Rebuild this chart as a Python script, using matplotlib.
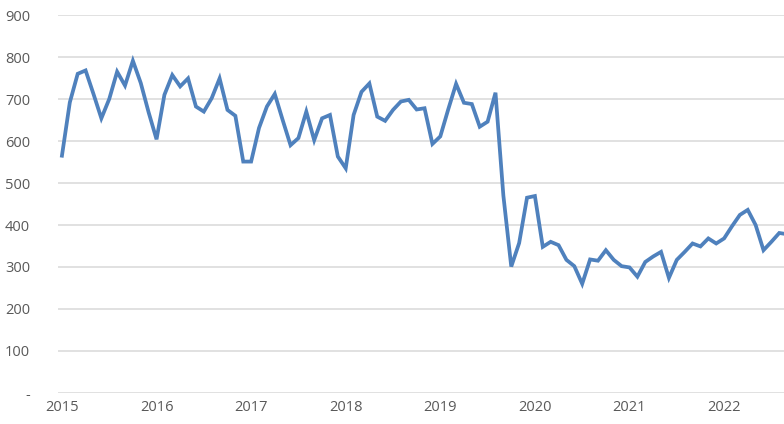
import matplotlib
matplotlib.use("Agg")
import matplotlib.pyplot as plt
import numpy as np

# monthly values, Jan 2015 .. Sep 2022
y2015 = [565, 692, 760, 768, 712, 654, 700, 765, 732, 791, 738, 668]
y2016 = [604, 710, 757, 730, 749, 682, 670, 702, 749, 674, 660, 551]
y2017 = [551, 631, 682, 712, 650, 590, 607, 670, 602, 654, 662, 563]
y2018 = [535, 662, 717, 737, 658, 648, 674, 694, 698, 675, 678, 593]
y2019 = [611, 675, 736, 691, 688, 634, 646, 715, 470, 301, 357, 465]
y2020 = [469, 348, 360, 352, 317, 302, 260, 318, 315, 340, 317, 302]
y2021 = [299, 277, 312, 325, 336, 274, 317, 336, 356, 349, 368, 356]
y2022 = [368, 397, 424, 436, 400, 340, 360, 381, 378]

values = y2015 + y2016 + y2017 + y2018 + y2019 + y2020 + y2021 + y2022
years = ["2015", "2016", "2017", "2018", "2019", "2020", "2021", "2022"]
y_ticks = [0, 100, 200, 300, 400, 500, 600, 700, 800, 900]
y_labels = ["-"] + [str(v) for v in y_ticks[1:]]

plt.rcParams['font.family'] = ['Open Sans', 'DejaVu Sans']

fig = plt.figure(figsize=(7.84, 4.24), dpi=100)
# axes runs off the right edge, like the cropped original
ax = fig.add_axes([58 / 784, 31 / 424, 1 - 58 / 784, 378 / 424])

x = np.arange(len(values))
ax.plot(x, values, color='#4f81bd', linewidth=2.7, solid_joinstyle='miter', zorder=3)

ax.set_xlim(-0.5, 91.6)
ax.set_ylim(0, 900)
ax.set_yticks(y_ticks)
ax.set_yticklabels(y_labels)
ax.set_xticks(np.arange(len(years)) * 12)
ax.set_xticklabels(years)

ax.grid(axis='y', color='#d9d9d9', linewidth=1.1)
ax.set_axisbelow(True)
for s in ax.spines.values():
    s.set_visible(False)
ax.tick_params(axis='both', length=0, colors='#595959', labelsize=10.5)
ax.tick_params(axis='y', pad=20)
ax.tick_params(axis='x', pad=5)
for lab in ax.get_yticklabels():
    lab.set_horizontalalignment('right')

fig.savefig('out.png', dpi=100)
